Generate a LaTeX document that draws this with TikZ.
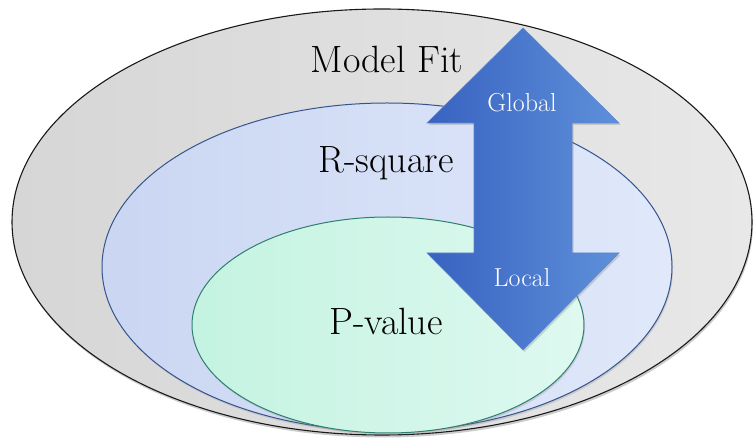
\documentclass[tikz,border=0pt]{standalone}
\usepackage{xcolor}
\usepackage{tikz}
\usetikzlibrary{positioning,calc,shadows}

\definecolor{fitgray}{HTML}{D6D6D6}
\definecolor{fitgraylight}{HTML}{E8E8E8}
\definecolor{rsqblue}{HTML}{CAD6F2}
\definecolor{rsqbluelight}{HTML}{E0E8FA}
\definecolor{rsqedge}{HTML}{35548F}
\definecolor{pvgreen}{HTML}{C4F3E1}
\definecolor{pvgreenlight}{HTML}{DEF9F0}
\definecolor{pvedge}{HTML}{2F7F6E}
\definecolor{arrowdark}{HTML}{3862C0}
\definecolor{arrowlight}{HTML}{5E90DA}
\definecolor{arrowedge}{HTML}{5A86CF}

\begin{document}
\begin{tikzpicture}[x=1pt,y=1pt,
    biglabel/.style={font=\fontsize{38}{44}\selectfont, anchor=base, text=black},
    arrowlabel/.style={font=\fontsize{26}{30}\selectfont, anchor=base, text=white}]
    \useasboundingbox (0,0) rectangle (755,439);

    % Model Fit
    \draw[black!90, line width=1.1pt, left color=fitgray, right color=fitgraylight,
          drop shadow={opacity=0.4, shadow xshift=1pt, shadow yshift=-2.5pt}]
        (382,217) ellipse [x radius=370, y radius=213];

    % R-square
    \draw[rsqedge, line width=1pt, left color=rsqblue, right color=rsqbluelight,
          drop shadow={opacity=0.25, shadow xshift=1pt, shadow yshift=-2pt}]
        (387,172) ellipse [x radius=285, y radius=164];

    % P-value
    \draw[pvedge, line width=1pt, left color=pvgreen, right color=pvgreenlight,
          drop shadow={opacity=0.25, shadow xshift=1pt, shadow yshift=-2pt}]
        (388,114) ellipse [x radius=196, y radius=108];

    % Double arrow
    \draw[arrowedge, line width=0.6pt, left color=arrowdark, right color=arrowlight,
          drop shadow={opacity=0.3, shadow xshift=1.5pt, shadow yshift=-2pt}]
        (523,411) -- (619,316) -- (572,316) -- (572,186) -- (619,186)
        -- (523,89) -- (427,186) -- (474,186) -- (474,316) -- (427,316) -- cycle;

    % Labels
    \node[biglabel] (fit) at (387,366) {Model Fit};
    \node[biglabel] (rsq) at (386,266) {R-square};
    \node[biglabel] (pval) at (386,104) {P-value};
    \node[arrowlabel] (glob) at (522,327) {Global};
    \node[arrowlabel] (loc) at (522,152) {Local};
\end{tikzpicture}
\end{document}
